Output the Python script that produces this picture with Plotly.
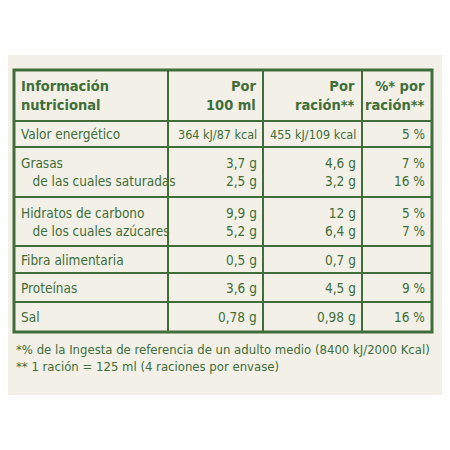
import plotly.graph_objects as go

nutrients = ["Valor energético", "Grasas<br>   de las cuales saturadas", "Hidratos de carbono<br>   de los cuales azúcares",
             "Fibra alimentaria", "Proteínas", "Sal"]
per_100ml = ["364 kJ/87 kcal", "3,7 g<br>2,5 g", "9,9 g<br>5,2 g", "0,5 g", "3,6 g", "0,78 g"]
per_racion = ["455 kJ/109 kcal", "4,6 g<br>3,2 g", "12 g<br>6,4 g", "0,7 g", "4,5 g", "0,98 g"]
pct_racion = ["5 %", "7 %<br>16 %", "5 %<br>7 %", "", "9 %", "16 %"]
headers = ["<b>Información<br>nutricional</b>", "<b>Por<br>100 ml</b>", "<b>Por<br>ración**</b>", "<b>%* por<br>ración**</b>"]
footnotes = "*% de la Ingesta de referencia de un adulto medio (8400 kJ/2000 Kcal)<br>** 1 ración = 125 ml (4 raciones por envase)"

G = "#3f6e3a"
FONT = "DejaVu Sans Condensed"
xl, xr = 14, 432
cols = [14, 168, 263, 362, 432]
rows = [70, 121, 147, 197, 246, 273, 302, 332]

fig = go.Figure()
shapes = [dict(type="rect", x0=-10, x1=460, y0=55, y1=395, fillcolor="#f2f0e7", line_width=0, layer="below"),
          dict(type="rect", x0=xl, x1=xr, y0=rows[0], y1=rows[-1], line=dict(color=G, width=3))]
for c in cols[1:-1]:
    shapes.append(dict(type="line", x0=c, x1=c, y0=rows[0], y1=rows[-1], line=dict(color=G, width=2)))
for r in rows[1:-1]:
    shapes.append(dict(type="line", x0=xl, x1=xr, y0=r, y1=r, line=dict(color=G, width=2)))

ann = []
def add(x, y, t, anchor, size=13.5):
    ann.append(dict(x=x, y=y, text=t, showarrow=False, xanchor=anchor, yanchor="middle",
                    font=dict(family=FONT, size=size, color=G), align=anchor))

add(cols[0] + 5, (rows[0] + rows[1]) / 2, headers[0], "left", 14.5)
for i in range(1, 4):
    add(cols[i + 1] - 5, (rows[0] + rows[1]) / 2, headers[i], "right", 14.5)
for i, n in enumerate(nutrients):
    y = (rows[i + 1] + rows[i + 2]) / 2
    add(cols[0] + 5, y, n, "left")
    add(cols[2] - 4, y, per_100ml[i], "right", 12.5 if i == 0 else 13.5)
    add(cols[3] - 4, y, per_racion[i], "right", 12.5 if i == 0 else 13.5)
    add(cols[4] - 5, y, pct_racion[i], "right")
ann.append(dict(x=14, y=358, text=footnotes, showarrow=False, xanchor="left", yanchor="middle", align="left",
                font=dict(family=FONT, size=13, color=G)))

# compensate the page's 8px body margin
fig.update_layout(width=450, height=450, margin=dict(l=0, r=0, t=0, b=0), paper_bgcolor="white",
                  plot_bgcolor="white", shapes=shapes, annotations=ann, showlegend=False,
                  xaxis=dict(range=[8, 458], visible=False), yaxis=dict(range=[458, 8], visible=False))
fig.write_html("out.html")
